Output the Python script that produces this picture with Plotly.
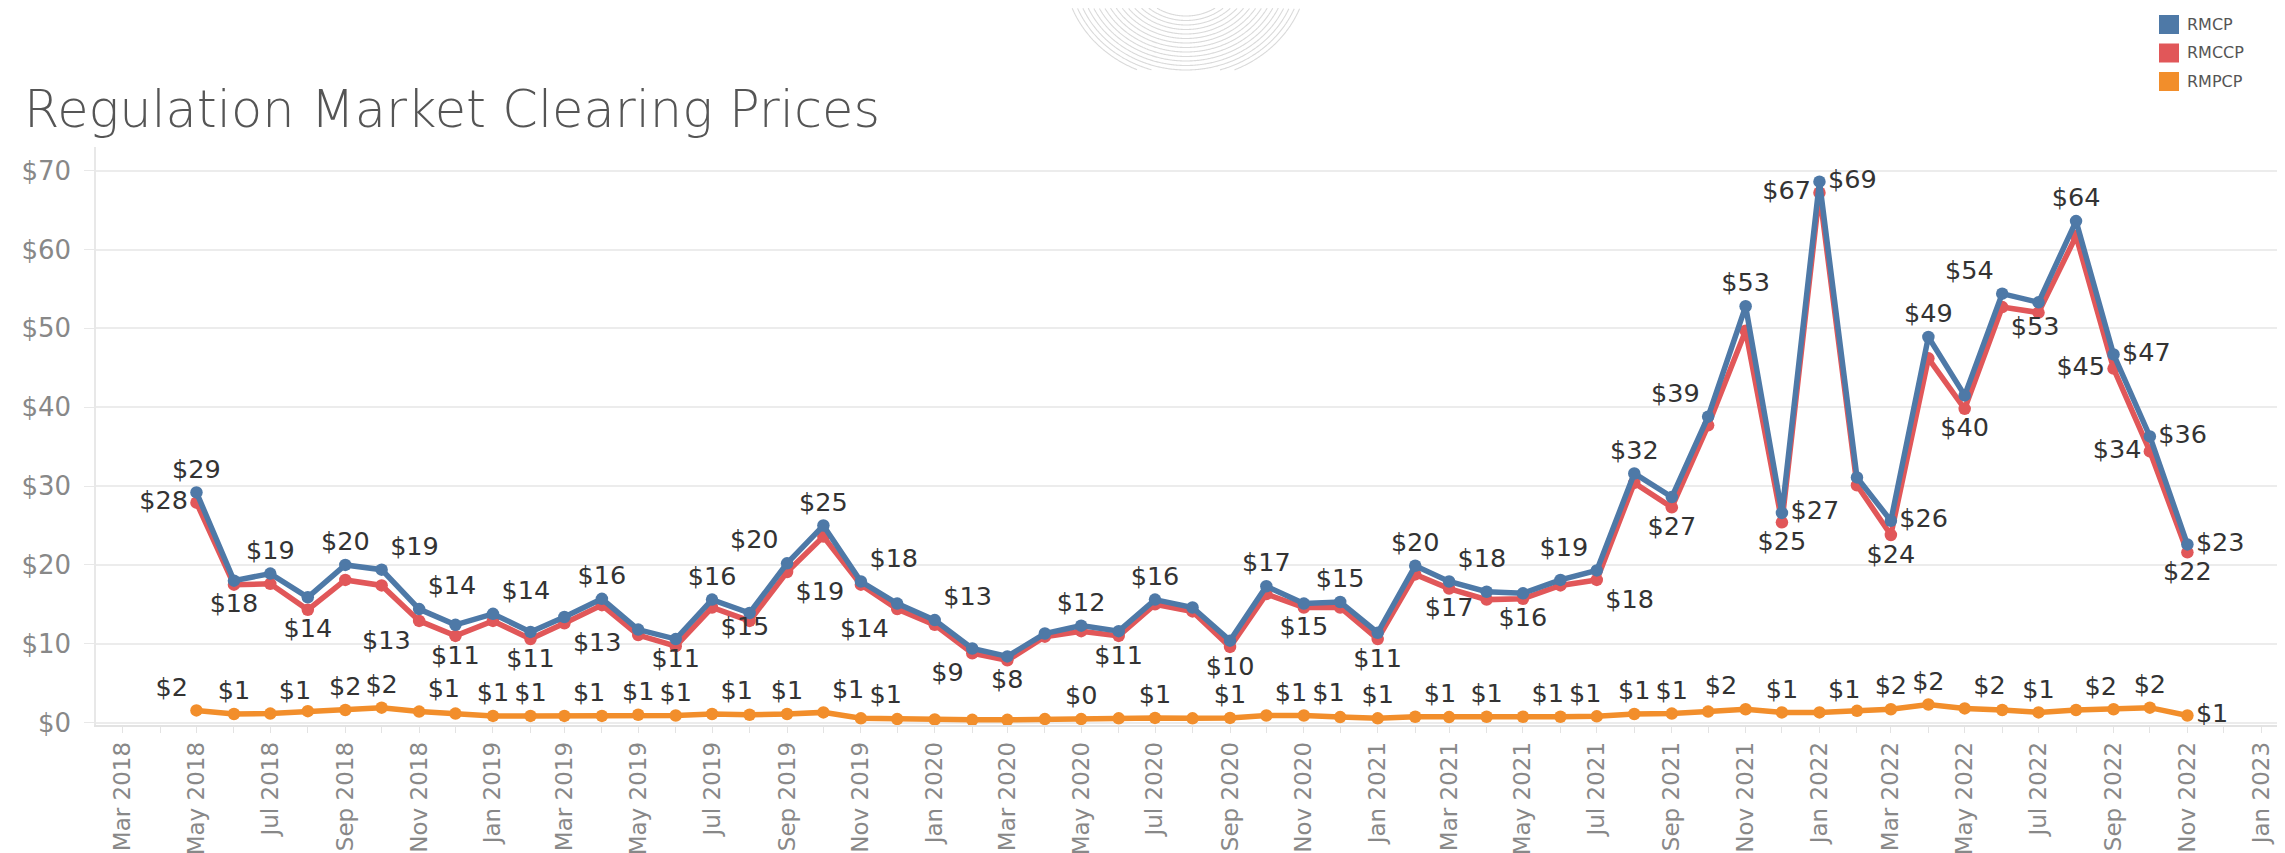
import numpy as np
import pandas as pd
import plotly.graph_objects as go

# ---------------- data ----------------
months = pd.date_range("2018-05-01", "2022-11-01", freq="MS")

rmcp = [29.2, 18.0, 18.9, 15.9, 20.0, 19.4, 14.4, 12.4, 13.8, 11.5,
        13.4, 15.7, 11.8, 10.6, 15.6, 13.9, 20.2, 25.0, 17.9, 15.1,
        13.0, 9.4, 8.4, 11.3, 12.3, 11.6, 15.6, 14.6, 10.4, 17.3,
        15.1, 15.3, 11.4, 19.9, 17.9, 16.6, 16.4, 18.1, 19.3, 31.6,
        28.6, 38.8, 52.8, 26.6, 68.6, 31.1, 25.6, 48.9, 41.5, 54.4,
        53.3, 63.6, 46.7, 36.3, 22.6]

rmccp = [27.9, 17.5, 17.6, 14.3, 18.1, 17.4, 12.9, 11.0, 12.9, 10.6,
         12.6, 14.9, 11.1, 9.7, 14.6, 12.9, 19.1, 23.6, 17.5, 14.4,
         12.4, 8.8, 7.9, 10.9, 11.6, 11.0, 15.0, 14.1, 9.6, 16.3,
         14.6, 14.6, 10.6, 18.8, 17.0, 15.6, 15.7, 17.4, 18.1, 30.4,
         27.3, 37.7, 49.7, 25.4, 67.2, 30.1, 23.8, 46.2, 39.8, 52.7,
         52.0, 61.7, 44.9, 34.4, 21.6]

rmpcp = [1.55, 1.1, 1.15, 1.45, 1.6, 1.9, 1.4, 1.15, 0.85, 0.85,
         0.85, 0.85, 1.0, 0.9, 1.1, 1.0, 1.1, 1.3, 0.55, 0.45,
         0.4, 0.35, 0.35, 0.45, 0.45, 0.55, 0.6, 0.55, 0.6, 0.9,
         0.9, 0.7, 0.55, 0.75, 0.7, 0.75, 0.75, 0.75, 0.8, 1.1,
         1.15, 1.4, 1.7, 1.3, 1.3, 1.5, 1.7, 2.3, 1.8, 1.6,
         1.3, 1.6, 1.7, 1.9, 0.9]

series_names = ["RMCP", "RMCCP", "RMPCP"]
y_ticks = [0, 10, 20, 30, 40, 50, 60, 70]
y_tick_text = ["$0", "$10", "$20", "$30", "$40", "$50", "$60", "$70"]

# which points carry a value label, and where it sits
rmcp_labels = {0: "t", 2: "t", 4: "t", 5: "tr", 6: "tr", 8: "tr", 11: "t", 13: "b",
               14: "t", 16: "tl", 17: "t", 18: "tr", 20: "tr", 24: "t", 26: "t",
               29: "t", 31: "t", 33: "t", 34: "tr", 38: "tl", 39: "t", 41: "tl",
               42: "t", 43: "r", 44: "r", 46: "r", 47: "t", 49: "tl", 51: "t",
               52: "r", 53: "r", 54: "r"}
rmccp_labels = {0: "l", 1: "b", 3: "b", 6: "bl", 7: "b", 9: "b", 10: "br", 14: "br",
                16: "br", 19: "bl", 21: "bl", 22: "b", 25: "b", 28: "b", 30: "b",
                32: "b", 34: "b", 36: "b", 38: "br", 40: "b", 43: "b", 44: "l",
                46: "b", 48: "b", 49: "br", 52: "l", 53: "l", 54: "b"}
rmpcp_labels = {0: "tl", 1: "t", 2: "tr", 4: "t", 5: "t", 6: "tr", 8: "t", 9: "t",
                10: "tr", 12: "t", 13: "t", 14: "tr", 16: "t", 17: "tr", 18: "tr",
                24: "t", 26: "t", 28: "t", 29: "tr", 30: "tr", 32: "t", 33: "tr",
                35: "t", 36: "tr", 37: "tr", 39: "t", 40: "t", 42: "tl", 43: "t",
                44: "tr", 46: "t", 47: "t", 48: "tr", 50: "t", 51: "tr", 53: "t",
                54: "r"}

# ---------------- style ----------------
FONT = "DejaVu Sans"
BLUE, RED, ORANGE = "#4e79a7", "#e15759", "#f28e2b"
POS = {"t": "top center", "tr": "top right", "tl": "top left", "b": "bottom center",
       "br": "bottom right", "bl": "bottom left", "r": "middle right", "l": "middle left"}

W, H = 2285, 853
ML, MR, MT, MB = 88, 10, 139, 136
PW, PH = W - ML - MR, H - MT - MB


def fmt(v):
    return "$" + str(int(v + 0.5))


def px_x(px):
    return (px - ML) / PW


def px_y(py):
    return (H - MB - py) / PH


fig = go.Figure()

for name, vals, col in [("RMPCP", rmpcp, ORANGE), ("RMCCP", rmccp, RED), ("RMCP", rmcp, BLUE)]:
    fig.add_trace(go.Scatter(
        x=months, y=vals, name=name, mode="lines+markers",
        line=dict(color=col, width=5.5),
        marker=dict(color=col, size=12.5),
        hovertemplate="%{x|%b %Y}: $%{y:.2f}<extra>" + name + "</extra>",
        cliponaxis=False,
    ))

for vals, labs in [(rmpcp, rmpcp_labels), (rmccp, rmccp_labels), (rmcp, rmcp_labels)]:
    idx = sorted(labs)
    fig.add_trace(go.Scatter(
        x=[months[i] for i in idx], y=[vals[i] for i in idx],
        mode="markers+text",
        text=[fmt(vals[i]) for i in idx],
        textposition=[POS[labs[i]] for i in idx],
        textfont=dict(family=FONT, size=25.5, color="#333333"),
        marker=dict(size=12, color="rgba(0,0,0,0)"),
        hoverinfo="skip", showlegend=False, cliponaxis=False,
    ))

shapes = []
annotations = []

# decorative background arcs (top centre)
cx, cy = 1178, -40
for k in range(15):
    ry = 48 + 4.5 * k
    rx = 1.1 * ry
    t = np.linspace(0, 2 * np.pi, 720)
    xs = cx + rx * np.cos(t)
    ys = cy + ry * np.sin(t)
    keep = (ys >= 0) & (ys <= 62)
    segs, cur = [], []
    for xv, yv, kp in zip(xs, ys, keep):
        if kp:
            cur.append((xv, yv))
        elif cur:
            segs.append(cur)
            cur = []
    if cur:
        segs.append(cur)
    if len(segs) > 1 and keep[0] and keep[-1]:
        segs[0] = segs[-1] + segs[0]
        segs.pop()
    for seg in segs:
        if len(seg) < 2:
            continue
        path = "M " + " L ".join(f"{px_x(a):.5f},{px_y(b):.5f}" for a, b in seg)
        shapes.append(dict(type="path", xref="paper", yref="paper", path=path,
                           line=dict(color="#dadada", width=1.1), layer="below"))

# legend (top right)
leg_cols = [BLUE, RED, ORANGE]
for j, (nm, col) in enumerate(zip(series_names, leg_cols)):
    top = 7 + 28.5 * j
    shapes.append(dict(type="rect", xref="paper", yref="paper",
                       x0=px_x(2151), x1=px_x(2171), y0=px_y(top + 19), y1=px_y(top),
                       fillcolor=col, line=dict(width=0)))
    annotations.append(dict(xref="paper", yref="paper", x=px_x(2177), y=px_y(top + 9.5),
                            text=nm, showarrow=False, xanchor="left", yanchor="middle",
                            font=dict(family=FONT, size=16, color="#555555")))

fig.update_layout(
    width=W, height=H,
    margin=dict(l=ML, r=MR, t=MT, b=MB),
    paper_bgcolor="white", plot_bgcolor="white",
    showlegend=False,
    font=dict(family=FONT, color="#555555"),
    title=dict(text="Regulation Market Clearing Prices", xref="container", yref="container",
               x=16 / W, y=1 - 101 / H, xanchor="left", yanchor="middle",
               font=dict(family=FONT, size=51, color="#555555", weight=300)),
    shapes=shapes, annotations=annotations,
)

fig.update_yaxes(
    range=[-0.3, 73], tickvals=y_ticks, ticktext=y_tick_text,
    showgrid=True, gridcolor="#ececec", gridwidth=1.5, zeroline=False,
    showline=True, linecolor="#e8e8e8", linewidth=1.5,
    ticks="outside", ticklen=10, tickcolor="#e8e8e8",
    tickfont=dict(family=FONT, size=26, color="#888888"),
    ticklabelstandoff=8, automargin=False,
)

fig.update_xaxes(
    type="date", range=["2018-02-07", "2023-01-19"],
    tick0="2018-03-01", dtick="M2", tickformat="%b %Y", tickangle=-90,
    showgrid=False, zeroline=False,
    showline=True, linecolor="#e3e3e3", linewidth=1.5,
    ticks="outside", ticklen=6, tickcolor="#e3e3e3",
    minor=dict(dtick="M1", ticks="outside", ticklen=6, tickcolor="#e3e3e3", showgrid=False),
    tickfont=dict(family=FONT, size=23, color="#888888"),
    automargin=False,
)

fig.write_html("out.html")
